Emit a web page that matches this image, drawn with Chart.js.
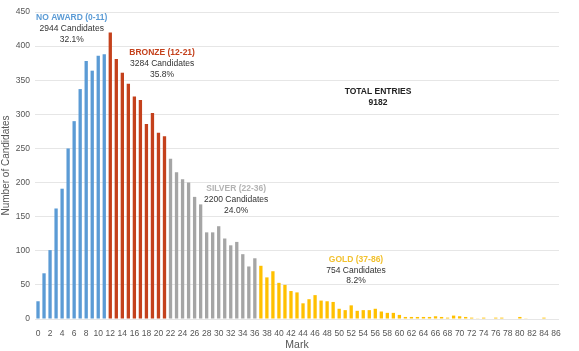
<!DOCTYPE html>
<html>
<head>
<meta charset="utf-8">
<script src="https://cdn.jsdelivr.net/npm/chart.js@4/dist/chart.umd.min.js"></script>
<style>
  html, body { margin: 0; padding: 0; background: #fff; }
  #wrap { width: 579px; height: 351px; }
</style>
</head>
<body>
<div id="wrap"><canvas id="chart" width="579" height="351"></canvas></div>
<script>
// marks 0..86 and number of candidates at each mark
const marks = Array.from({ length: 87 }, (_, i) => String(i));
const candidates = [
  26, 67, 101, 162, 191, 250, 290, 337, 378, 364, 386, 388,
  420, 381, 361, 345, 326, 321, 286, 302, 273, 268,
  235, 215, 205, 200, 179, 168, 127, 127, 136, 118, 108, 113, 95, 77, 89,
  78, 61, 70, 53, 50, 41, 39, 23, 29, 35, 27, 26, 25, 15, 13, 20, 12, 13, 13,
  15, 11, 9, 9, 6, 3, 3, 3, 3, 3, 4, 3, 2, 5, 4, 3, 2, 1, 2, 0, 2, 2, 0, 0,
  3, 1, 0, 0, 2, 0, 0
];
const yTicks = [0, 50, 100, 150, 200, 250, 300, 350, 400, 450];

// award bands: name, first mark, last mark, count, share
const bandNames = ["NO AWARD (0-11)", "BRONZE (12-21)", "SILVER (22-36)", "GOLD (37-86)"];
const bandStart = [0, 12, 22, 37];
const bandEnd = [11, 21, 36, 86];
const bandCounts = ["2944 Candidates", "3284 Candidates", "2200 Candidates", "754 Candidates"];
const bandShares = ["32.1%", "35.8%", "24.0%", "8.2%"];
const bandColors = ["#5b9bd5", "#c4411c", "#a5a5a5", "#ffc000"];
const bandLabelColors = ["#5b9bd5", "#c4411c", "#b3b3b3", "#f2c12e"];
// label anchor in data units (mark, candidates)
const bandLabelX = [5.6, 20.6, 32.9, 52.8];
const bandLabelY = [441, 390, 191, 87];

const totalLabel = ["TOTAL ENTRIES", "9182"];

function bandOf(i) {
  for (let b = 0; b < bandStart.length; b++) {
    if (i >= bandStart[b] && i <= bandEnd[b]) return b;
  }
  return 0;
}
const barColors = marks.map((m, i) => bandColors[bandOf(i)]);

const annotations = {
  id: "annotations",
  afterDatasetsDraw(chart) {
    const { ctx, scales } = chart;
    ctx.save();
    ctx.textAlign = "center";
    ctx.textBaseline = "middle";
    bandNames.forEach((name, b) => {
      const x = scales.x.getPixelForValue(bandLabelX[b]);
      const y = scales.y.getPixelForValue(bandLabelY[b]);
      ctx.font = "bold 8.5px 'Liberation Sans', Arial, sans-serif";
      ctx.fillStyle = bandLabelColors[b];
      ctx.fillText(name, x, y);
      ctx.font = "8.5px 'Liberation Sans', Arial, sans-serif";
      ctx.fillStyle = "#333";
      ctx.fillText(bandCounts[b], x, y + 11);
      ctx.fillText(bandShares[b], x, y + 21.5);
    });
    ctx.font = "bold 8.5px 'Liberation Sans', Arial, sans-serif";
    ctx.fillStyle = "#222";
    ctx.fillText(totalLabel[0], 378, 92);
    ctx.fillText(totalLabel[1], 378, 103);
    ctx.restore();
  }
};

new Chart(document.getElementById("chart"), {
  type: "bar",
  data: {
    labels: marks,
    datasets: [{
      data: candidates,
      backgroundColor: barColors,
      barPercentage: 0.55,
      categoryPercentage: 1
    }]
  },
  options: {
    responsive: false,
    animation: false,
    layout: { padding: { top: 12, right: 20, left: 0, bottom: 0 } },
    plugins: { legend: { display: false }, tooltip: { enabled: false } },
    scales: {
      x: {
        grid: { display: false },
        border: { display: false },
        ticks: {
          autoSkip: false,
          maxRotation: 0,
          padding: 2,
          color: "#555",
          font: { size: 8.5, family: "'Liberation Sans', Arial, sans-serif" },
          callback: (v, i) => (i % 2 === 0 ? marks[i] : "")
        },
        title: {
          display: true,
          text: "Mark",
          color: "#555",
          padding: { top: 0, bottom: 0 },
          font: { size: 10.5, family: "'Liberation Sans', Arial, sans-serif" }
        },
        afterFit: s => { s.height = 32; }
      },
      y: {
        min: 0,
        max: 450,
        afterBuildTicks: s => { s.ticks = yTicks.map(v => ({ value: v })); },
        grid: { color: "#e6e6e6", drawTicks: false },
        border: { display: false },
        ticks: {
          padding: 5,
          color: "#555",
          font: { size: 8.5, family: "'Liberation Sans', Arial, sans-serif" }
        },
        title: {
          display: true,
          text: "Number of Candidates",
          color: "#555",
          padding: { top: 0, bottom: 0 },
          font: { size: 10, family: "'Liberation Sans', Arial, sans-serif" }
        },
        afterFit: s => { s.width = 35; }
      }
    }
  },
  plugins: [annotations]
});
</script>
</body>
</html>
